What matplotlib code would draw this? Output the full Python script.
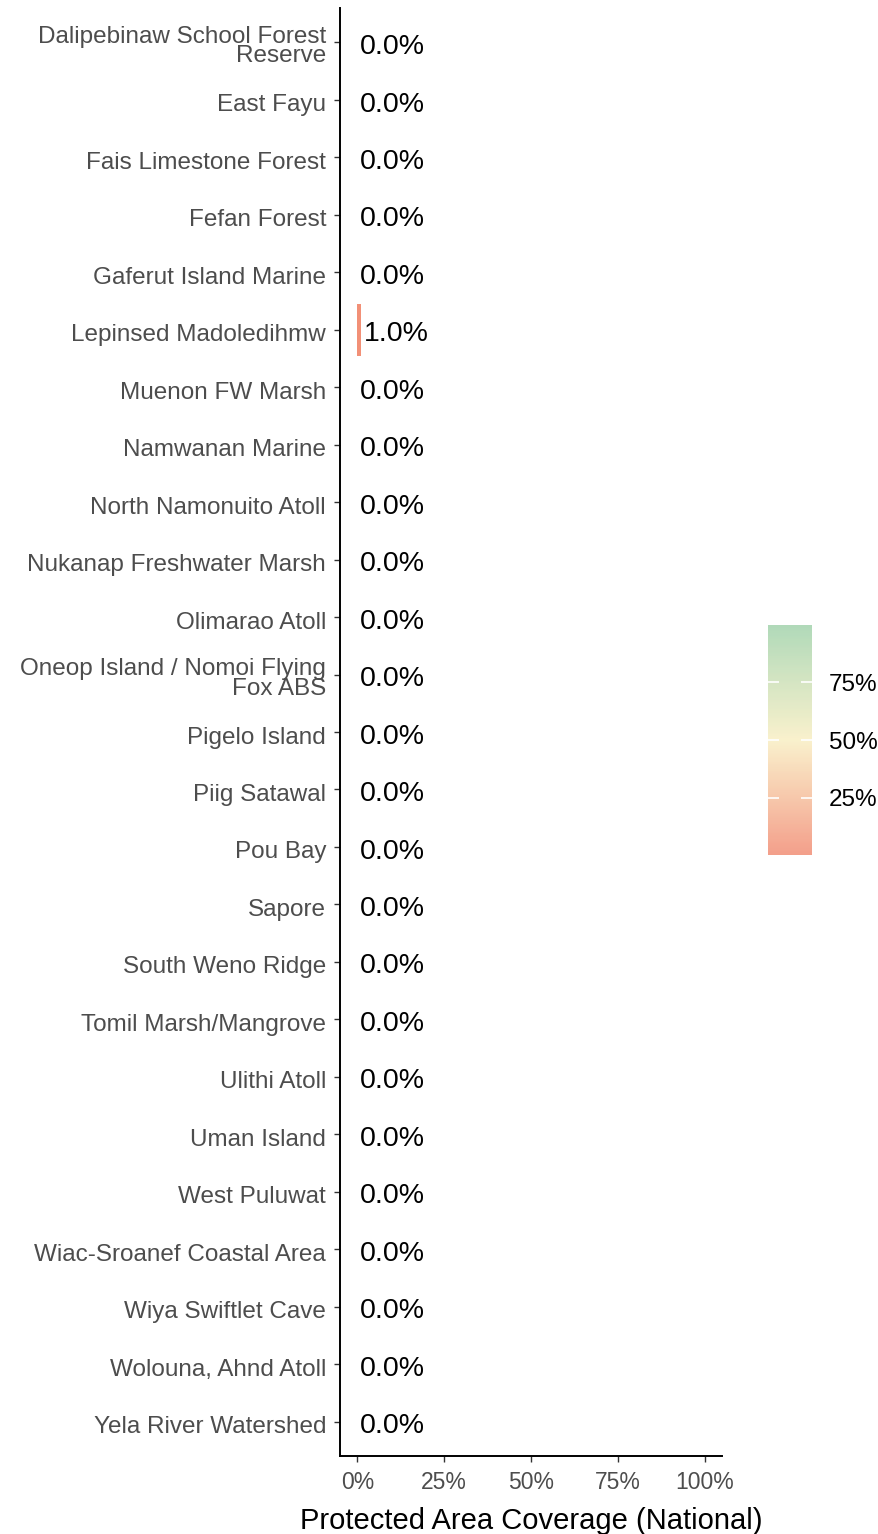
import numpy as np
import matplotlib
matplotlib.use("Agg")
from matplotlib import pyplot as plt
from matplotlib.colors import LinearSegmentedColormap, Normalize
from matplotlib.cm import ScalarMappable
import matplotlib.transforms as mtransforms

plt.rcParams['font.family'] = ['Liberation Sans', 'DejaVu Sans']

sites = ['Dalipebinaw School Forest\nReserve', 'East Fayu', 'Fais Limestone Forest',
         'Fefan Forest', 'Gaferut Island Marine', 'Lepinsed Madoledihmw',
         'Muenon FW Marsh', 'Namwanan Marine', 'North Namonuito Atoll',
         'Nukanap Freshwater Marsh', 'Olimarao Atoll',
         'Oneop Island / Nomoi Flying\nFox ABS', 'Pigelo Island', 'Piig Satawal',
         'Pou Bay', 'Sapore', 'South Weno Ridge', 'Tomil Marsh/Mangrove',
         'Ulithi Atoll', 'Uman Island', 'West Puluwat', 'Wiac-Sroanef Coastal Area',
         'Wiya Swiftlet Cave', 'Wolouna, Ahnd Atoll', 'Yela River Watershed']
coverage = [0.0, 0.0, 0.0, 0.0, 0.0, 0.01, 0.0, 0.0, 0.0, 0.0, 0.0, 0.0, 0.0,
            0.0, 0.0, 0.0, 0.0, 0.0, 0.0, 0.0, 0.0, 0.0, 0.0, 0.0, 0.0]
xticks = [0, 0.25, 0.5, 0.75, 1.0]
xticklabels = ['0%', '25%', '50%', '75%', '100%']

cmap = LinearSegmentedColormap.from_list('cov', ['#F28E76', '#F9EFC4', '#A3D3AD'])
norm = Normalize(0, 1)

fig = plt.figure(figsize=(8.79, 15.34), dpi=100)
ax = fig.add_axes([0.3868, 0.0508, 0.4346, 0.9440])

y = np.arange(len(sites))
ax.barh(y, coverage, height=0.9, color=cmap(norm(coverage)))
for yi, v in zip(y, coverage):
    ax.text(v + 0.008, yi + 0.08, '%.1f%%' % (v * 100), ha='left', va='center',
            fontsize=20.5, color='black')

ax.set_yticks(y)
ax.set_yticklabels(sites, fontsize=17.5, color='#4D4D4D', linespacing=0.85)
ax.set_ylim(len(sites) - 0.4, -0.6)
ax.set_xlim(-0.05, 1.05)
ax.set_xticks(xticks)
ax.set_xticklabels(xticklabels, fontsize=16.5, color='#4D4D4D')
ax.set_xlabel('Protected Area Coverage (National)', fontsize=21, labelpad=9)
ax.tick_params(axis='y', length=4, width=1, color='#333333', pad=6)
ax.tick_params(axis='x', length=4, width=1, color='#333333', pad=7)
shift = mtransforms.ScaledTranslation(0, -3 / 100, fig.dpi_scale_trans)
for lbl in ax.get_yticklabels():
    lbl.set_transform(lbl.get_transform() + shift)
for s in ['top', 'right']:
    ax.spines[s].set_visible(False)
for s in ['left', 'bottom']:
    ax.spines[s].set_linewidth(1.4)

cax = fig.add_axes([0.8737, 0.4426, 0.05, 0.150])
cb = fig.colorbar(ScalarMappable(norm=norm, cmap=cmap), cax=cax, ticks=[0.25, 0.5, 0.75])
cb.outline.set_visible(False)
cb.solids.set_alpha(0.85)
cb.ax.set_yticklabels(['25%', '50%', '75%'], fontsize=17.5, color='black')
cax.tick_params(axis='y', left=True, right=True, direction='in', color='white',
                length=8, width=1.2, pad=12)

fig.savefig('out.png', dpi=100)
